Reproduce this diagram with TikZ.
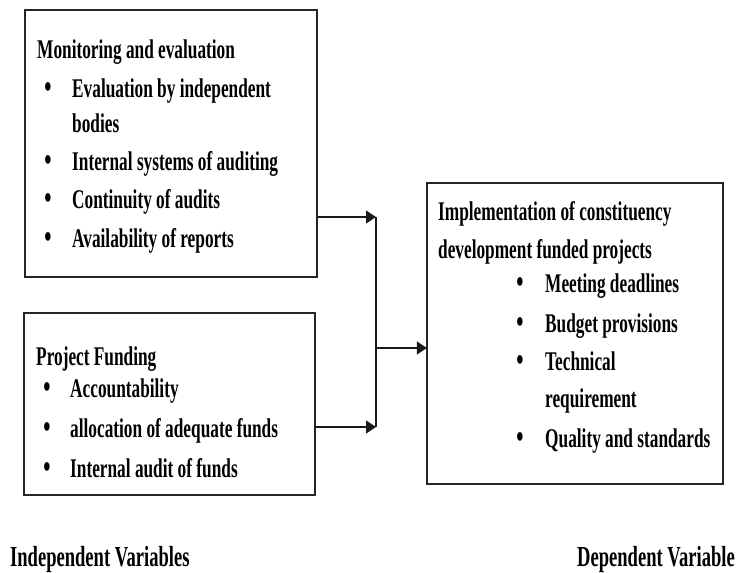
\documentclass[tikz,border=0pt]{standalone}
\usepackage{fontspec}
\newfontfamily\cf{Liberation Serif}[FakeStretch=0.64]
\usetikzlibrary{arrows.meta}
\tikzset{
  box/.style={draw=black!85, line width=1.4pt},
  txt/.style={anchor=base west, inner sep=0pt, font=\cf\bfseries\fontsize{27}{27}\selectfont},
  bul/.style={anchor=base, inner sep=0pt, font=\cf\bfseries\fontsize{32}{32}\selectfont},
  lbl/.style={anchor=base west, inner sep=0pt, font=\cf\bfseries\fontsize{29}{29}\selectfont},
  conn/.style={line width=1.3pt, draw=black!90},
  arr/.style={conn, -{Triangle[length=10pt,width=13pt]}}
}
\begin{document}
\begin{tikzpicture}[x=1pt,y=-1pt]
\useasboundingbox (0,0) rectangle (742,573);
% boxes
\draw[box] (25,10) rectangle (317,277);
\node[inner sep=0pt, minimum width=292pt, minimum height=267pt] (me) at (171,143.5) {};
\draw[box] (24,313) rectangle (315,495);
\node[inner sep=0pt, minimum width=291pt, minimum height=182pt] (pf) at (169.5,404) {};
\draw[box] (427,183) rectangle (723,484);
\node[inner sep=0pt, minimum width=296pt, minimum height=301pt] (impl) at (575,333.5) {};
% M&E text
\node[txt] (me0) at (37,58) {Monitoring and evaluation};
\node[bul] (meb1) at (48,97) {•};
\node[txt] (me1) at (72,97) {Evaluation by independent};
\node[txt] (me1b) at (72,132) {bodies};
\node[bul] (meb2) at (48,170) {•};
\node[txt] (me2) at (72,170) {Internal systems of auditing};
\node[bul] (meb3) at (48,208) {•};
\node[txt] (me3) at (72,208) {Continuity of audits};
\node[bul] (meb4) at (48,247) {•};
\node[txt] (me4) at (72,247) {Availability of reports};
% Funding text
\node[txt] (pf0) at (36,365) {Project Funding};
\node[bul] (pfb1) at (47,397) {•};
\node[txt] (pf1) at (70,397) {Accountability};
\node[bul] (pfb2) at (47,437) {•};
\node[txt] (pf2) at (70,437) {allocation of adequate funds};
\node[bul] (pfb3) at (47,477) {•};
\node[txt] (pf3) at (70,477) {Internal audit of funds};
% Implementation text
\node[txt] (im0) at (438,220) {Implementation of constituency};
\node[txt] (im0b) at (438,258) {development funded projects};
\node[bul] (imb1) at (520,292) {•};
\node[txt] (im1) at (545,292) {Meeting deadlines};
\node[bul] (imb2) at (520,332) {•};
\node[txt] (im2) at (545,332) {Budget provisions};
\node[bul] (imb3) at (520,370) {•};
\node[txt] (im3) at (545,370) {Technical};
\node[txt] (im3b) at (545,407) {requirement};
\node[bul] (imb4) at (520,447) {•};
\node[txt] (im4) at (545,447) {Quality and standards};
% labels
\node[lbl] (iv) at (10,566) {Independent Variables};
\node[lbl] (dv) at (577,566) {Dependent Variable};
% connectors
\coordinate (jt) at (376,217);
\coordinate (jb) at (376,427);
\coordinate (jm) at (376,348);
\draw[arr] (me.east |- jt) -- (jt);
\draw[arr] (pf.east |- jb) -- (jb);
\draw[conn] (jt) -- (jb);
\draw[arr] (jm) -- (impl.west |- jm);
\end{tikzpicture}
\end{document}
